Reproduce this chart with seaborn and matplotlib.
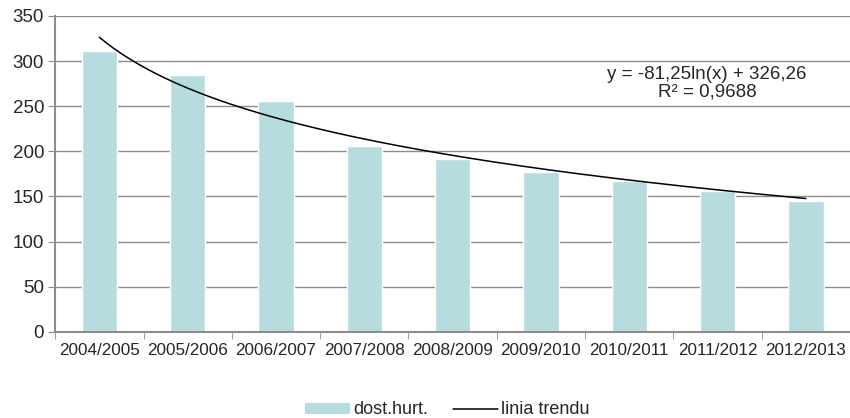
import numpy as np
import pandas as pd
import seaborn as sns
import matplotlib.pyplot as plt
from matplotlib.patches import Patch
from matplotlib.lines import Line2D

# chart data
seasons = ['2004/2005', '2005/2006', '2006/2007', '2007/2008', '2008/2009',
           '2009/2010', '2010/2011', '2011/2012', '2012/2013']
dost_hurt = [311, 284, 256, 206, 191, 177, 167, 156, 145]
# logarithmic trend line as printed on the chart
trend_a = -81.25
trend_b = 326.26
trend_label = 'y = -81,25ln(x) + 326,26\nR² = 0,9688'

sns.set_style('white')
plt.rcParams['font.family'] = ['Liberation Sans', 'DejaVu Sans']
text_col = '#262626'
grid_col = '#8c8c8c'
bar_col = '#b7dce0'

df = pd.DataFrame({'season': seasons, 'value': dost_hurt})

fig, ax = plt.subplots(figsize=(8.5, 4.18), dpi=100)
fig.subplots_adjust(left=0.065, right=1.0, top=0.962, bottom=0.206)

sns.barplot(data=df, x='season', y='value', color=bar_col, width=0.4,
            saturation=1, ax=ax, zorder=2)

# trend line, Excel x = 1..n
xs = np.linspace(1, len(seasons), 200)
trend = pd.DataFrame({'x': xs - 1, 'y': trend_a * np.log(xs) + trend_b})
sns.lineplot(data=trend, x='x', y='y', color='black', lw=1.1, ax=ax, zorder=3)

ax.text(6.88, 275, trend_label, ha='center', va='center', fontsize=13.5,
        color=text_col, linespacing=1.05)

ax.set_xlim(-0.5, len(seasons) - 0.5)
ax.set_ylim(0, 350)
ax.set_yticks(range(0, 351, 50))
ax.yaxis.grid(True, color=grid_col, lw=1)
ax.set_axisbelow(True)

# tick marks at category boundaries, labels at centres
ax.set_xticks(np.arange(-0.5, len(seasons), 1), minor=True)
ax.tick_params(axis='x', which='major', length=0, labelsize=12.3,
               labelcolor=text_col, pad=8)
ax.tick_params(axis='x', which='minor', length=5, color=grid_col, bottom=True)
ax.tick_params(axis='y', length=5, color=grid_col, labelsize=13.5,
               labelcolor=text_col, left=True, pad=3)
ax.set_xlabel('')
ax.set_ylabel('')

for side in ['top', 'right']:
    ax.spines[side].set_visible(False)
for side in ['left', 'bottom']:
    ax.spines[side].set_color(grid_col)
    ax.spines[side].set_linewidth(1.5)

handles = [Patch(facecolor=bar_col, edgecolor='none', label='dost.hurt.'),
           Line2D([0], [0], color='black', lw=1.1, label='linia trendu')]
fig.legend(handles=handles, loc='lower center', bbox_to_anchor=(0.526, -0.04),
           ncol=2, frameon=False, fontsize=13, handlelength=2.5,
           handleheight=0.55, handletextpad=0.15, columnspacing=1.4,
           labelcolor=text_col)

fig.savefig('out.png', dpi=100)
